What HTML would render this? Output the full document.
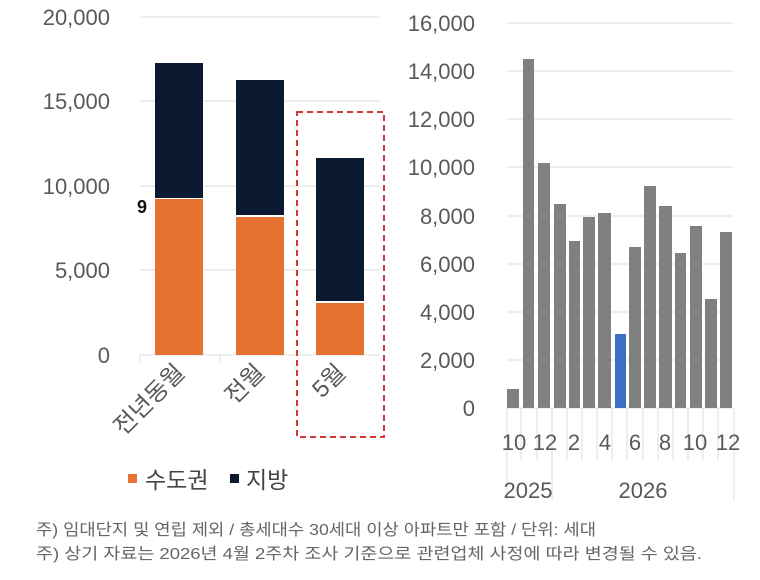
<!DOCTYPE html>
<html><head><meta charset="utf-8"><style>
html,body{margin:0;padding:0;background:#fff;}
svg{display:block;font-family:"Liberation Sans","Noto Sans CJK KR",sans-serif;}
</style></head><body>
<svg width="760" height="580" viewBox="0 0 760 580" xmlns="http://www.w3.org/2000/svg">
<g stroke="#dddddd" stroke-width="1">
<line x1="140" y1="17" x2="380" y2="17"/><line x1="140" y1="101" x2="380" y2="101"/>
<line x1="140" y1="186" x2="380" y2="186"/><line x1="140" y1="270" x2="380" y2="270"/>
<line x1="140" y1="355" x2="380" y2="355"/>
<line x1="220" y1="355" x2="220" y2="363"/><line x1="140" y1="355" x2="140" y2="363"/>
</g>
<g font-size="22" fill="#595959" text-anchor="end">
<text x="110" y="25">20,000</text><text x="110" y="109">15,000</text>
<text x="110" y="194">10,000</text><text x="110" y="278">5,000</text><text x="110" y="363">0</text>
</g>
<rect x="155" y="63" width="48" height="135" fill="#0b1a30"/>
<rect x="155" y="199" width="48" height="156" fill="#e67232"/>
<rect x="236" y="80" width="48" height="135" fill="#0b1a30"/>
<rect x="236" y="217" width="48" height="138" fill="#e67232"/>
<rect x="316" y="158" width="48" height="143" fill="#0b1a30"/>
<rect x="316" y="303" width="48" height="52" fill="#e67232"/>
<text x="137" y="213" font-size="18" font-weight="bold" fill="#111">9</text>
<rect x="297" y="112" width="87" height="325" fill="none" stroke="#d23a3a" stroke-width="2" stroke-dasharray="6,4"/>
<g font-size="24" fill="#595959" text-anchor="end">
<text transform="translate(186,374) rotate(-45)">전년동월</text>
<text transform="translate(266,374) rotate(-45)">전월</text>
<text transform="translate(347,374) rotate(-45)">5월</text>
</g>
<rect x="128" y="474" width="9" height="9" fill="#e67232"/>
<text x="145" y="488" font-size="23" fill="#444">수도권</text>
<rect x="230" y="474" width="9" height="9" fill="#0b1a30"/>
<text x="246" y="488" font-size="23" fill="#444">지방</text>
<g stroke="#dddddd" stroke-width="1">
<line x1="507" y1="23" x2="733" y2="23"/><line x1="507" y1="71" x2="733" y2="71"/>
<line x1="507" y1="119" x2="733" y2="119"/><line x1="507" y1="167" x2="733" y2="167"/>
<line x1="507" y1="216" x2="733" y2="216"/><line x1="507" y1="264" x2="733" y2="264"/>
<line x1="507" y1="312" x2="733" y2="312"/><line x1="507" y1="360" x2="733" y2="360"/>
<line x1="507" y1="408" x2="733" y2="408"/>
<line x1="507" y1="408" x2="507" y2="500"/><line x1="552" y1="408" x2="552" y2="500"/><line x1="734" y1="408" x2="734" y2="500"/>
<line x1="521" y1="408" x2="521" y2="460"/><line x1="537" y1="408" x2="537" y2="460"/>
<line x1="567" y1="408" x2="567" y2="460"/><line x1="582" y1="408" x2="582" y2="460"/>
<line x1="597" y1="408" x2="597" y2="460"/><line x1="612" y1="408" x2="612" y2="460"/>
<line x1="627" y1="408" x2="627" y2="460"/><line x1="643" y1="408" x2="643" y2="460"/>
<line x1="658" y1="408" x2="658" y2="460"/><line x1="673" y1="408" x2="673" y2="460"/>
<line x1="688" y1="408" x2="688" y2="460"/><line x1="703" y1="408" x2="703" y2="460"/>
<line x1="718" y1="408" x2="718" y2="460"/>
</g>
<g font-size="22" fill="#595959" text-anchor="end">
<text x="475" y="31">16,000</text><text x="475" y="79">14,000</text><text x="475" y="127">12,000</text>
<text x="475" y="175">10,000</text><text x="475" y="224">8,000</text><text x="475" y="272">6,000</text>
<text x="475" y="320">4,000</text><text x="475" y="368">2,000</text><text x="475" y="416">0</text>
</g>
<g fill="#808080">
<rect x="507" y="389" width="12" height="19"/>
<rect x="523" y="59" width="11" height="349"/>
<rect x="538" y="163" width="12" height="245"/>
<rect x="554" y="204" width="12" height="204"/>
<rect x="569" y="241" width="11" height="167"/>
<rect x="583" y="217" width="12" height="191"/>
<rect x="598" y="213" width="13" height="195"/>
<rect x="629" y="247" width="12" height="161"/>
<rect x="644" y="186" width="12" height="222"/>
<rect x="659" y="206" width="13" height="202"/>
<rect x="675" y="253" width="11" height="155"/>
<rect x="690" y="226" width="12" height="182"/>
<rect x="705" y="299" width="12" height="109"/>
<rect x="720" y="232" width="12" height="176"/>
</g>
<rect x="615" y="334" width="11" height="74" fill="#3a6fc4"/>
<g font-size="22" fill="#595959" text-anchor="middle">
<text x="514" y="450">10</text><text x="545" y="450">12</text><text x="574" y="450">2</text>
<text x="605" y="450">4</text><text x="635" y="450">6</text><text x="665" y="450">8</text>
<text x="695" y="450">10</text><text x="728" y="450">12</text>
<text x="528" y="498">2025</text><text x="643" y="498">2026</text>
</g>
<g font-size="16" fill="#666">
<text x="36" y="535" textLength="560" lengthAdjust="spacingAndGlyphs">주) 임대단지 및 연립 제외 / 총세대수 30세대 이상 아파트만 포함 / 단위: 세대</text>
<text x="36" y="559" textLength="666" lengthAdjust="spacingAndGlyphs">주) 상기 자료는 2026년 4월 2주차 조사 기준으로 관련업체 사정에 따라 변경될 수 있음.</text>
</g>
</svg>
</body></html>
